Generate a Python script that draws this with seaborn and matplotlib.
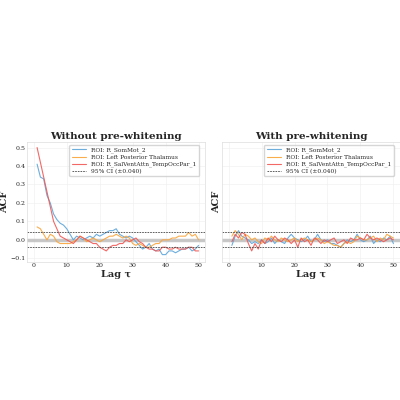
import numpy as np
import pandas as pd
import seaborn as sns
import matplotlib.pyplot as plt

sns.set_theme(style="whitegrid")
plt.rcParams['font.family'] = ['DejaVu Serif']

lags = list(range(1, 51))
names = ["ROI: R_SomMot_2", "ROI: Left Posterior Thalamus", "ROI: R_SalVentAttn_TempOccPar_1"]
colors = ["#5da5da", "#faa43a", "#f15854"]
ci = 0.040

raw_blue = [0.41,0.34,0.33,0.24,0.20,0.14,0.11,0.09,0.08,0.06,0.03,0.00,0.02,0.01,0.00,0.01,0.02,0.01,0.03,0.02,
            0.03,0.04,0.05,0.05,0.06,0.03,0.02,0.01,0.02,0.01,-0.01,-0.03,-0.05,-0.04,-0.02,-0.05,-0.06,-0.05,-0.08,-0.08,
            -0.06,-0.06,-0.07,-0.06,-0.05,-0.05,-0.04,-0.06,-0.05,-0.03]
raw_orange = [0.07,0.06,0.03,0.00,0.03,0.02,-0.01,-0.02,-0.02,-0.02,-0.02,-0.01,0.00,0.02,0.01,-0.01,0.00,0.01,0.00,-0.01,
              0.00,0.01,0.02,0.02,0.03,0.02,0.01,0.02,0.01,-0.02,-0.03,-0.02,-0.03,-0.04,-0.04,-0.03,-0.02,-0.02,0.00,0.00,
              0.00,0.01,0.01,0.02,0.02,0.02,0.04,0.02,0.03,0.00]
raw_red = [0.50,0.42,0.34,0.26,0.18,0.10,0.06,0.02,0.01,0.00,-0.01,-0.02,0.00,0.02,0.01,0.00,-0.01,-0.02,-0.02,-0.04,
           -0.05,-0.06,-0.04,-0.03,-0.03,-0.02,-0.02,0.00,-0.01,0.00,0.01,-0.01,-0.02,-0.04,-0.05,-0.05,-0.06,-0.06,-0.04,-0.04,
           -0.05,-0.05,-0.04,-0.05,-0.05,-0.05,-0.04,-0.04,-0.06,-0.06]

pw_blue = [-0.03,0.02,0.05,0.02,0.01,0.00,-0.02,-0.01,-0.02,0.00,-0.02,-0.01,0.01,-0.02,0.00,-0.01,-0.02,0.01,0.03,0.01,
           0.00,-0.01,0.00,0.02,-0.01,0.00,0.03,0.00,-0.01,0.00,-0.02,-0.02,-0.03,-0.04,-0.02,0.00,-0.01,0.00,0.03,0.00,
           -0.01,0.00,0.02,-0.02,0.00,-0.01,0.01,0.00,0.02,-0.02]
pw_orange = [0.02,0.05,0.03,0.00,0.03,0.02,0.00,0.01,-0.01,-0.02,0.01,0.00,0.02,0.00,-0.01,0.01,0.00,-0.01,0.00,0.01,
             -0.01,0.00,0.01,0.00,-0.01,0.00,0.01,0.00,-0.02,-0.01,-0.02,-0.03,-0.03,-0.04,-0.02,-0.01,-0.02,-0.01,0.02,0.01,
             0.00,0.00,0.01,0.02,-0.01,0.01,0.00,0.03,0.02,0.01]
pw_red = [-0.01,0.03,0.01,0.04,0.03,-0.02,-0.06,-0.02,-0.05,0.00,-0.02,0.01,-0.01,0.02,0.00,-0.01,0.01,0.00,-0.02,0.00,
          -0.04,0.01,-0.01,0.00,-0.03,0.01,0.00,-0.02,0.00,-0.01,0.00,0.01,-0.02,-0.01,0.00,-0.02,0.01,0.00,0.00,0.01,
          0.00,0.03,0.01,0.00,0.01,0.00,-0.01,0.00,0.01,0.00]

fig = plt.figure(figsize=(4, 4), dpi=100)
ax1 = fig.add_axes([0.068, 0.345, 0.445, 0.30])
ax2 = fig.add_axes([0.555, 0.345, 0.445, 0.30], sharey=ax1)

panels = [(ax1, "Without pre-whitening", [raw_blue, raw_orange, raw_red]),
          (ax2, "With pre-whitening", [pw_blue, pw_orange, pw_red])]
for ax, title, series in panels:
    ax.axhline(0, color="#bbbbbb", lw=2.5, alpha=0.8, zorder=1)
    for name, vals, c in zip(names, series, colors):
        sns.lineplot(x=lags, y=vals, ax=ax, color=c, lw=0.8, label=name, alpha=0.9)
    ax.axhline(ci, color="#444444", ls=(0, (2, 1.2)), lw=0.6, label=f"95% CI (±{ci:.3f})")
    ax.axhline(-ci, color="#444444", ls=(0, (2, 1.2)), lw=0.6)
    ax.set_title(title, fontsize=7.5, fontweight="bold", pad=2)
    ax.set_xlabel("Lag τ", fontsize=7, fontweight="bold", labelpad=1)
    ax.set_ylabel("ACF", fontsize=7, fontweight="bold", labelpad=1)
    ax.tick_params(labelsize=4.5, pad=1, length=0)
    ax.grid(True, lw=0.4, color="#eeeeee")
    ax.set_xlim(-2, 52)
    ax.legend(loc="upper right", fontsize=4.2, frameon=True, handlelength=2.5, borderpad=0.4,
              labelspacing=0.3, bbox_to_anchor=(0.98, 1.0))
    for s in ax.spines.values():
        s.set_color("#dddddd"); s.set_linewidth(0.5)
ax1.set_ylim(-0.12, 0.53)
ax1.set_yticks([-0.1, 0.0, 0.1, 0.2, 0.3, 0.4, 0.5])
ax1.set_xticks([0, 10, 20, 30, 40, 50])
ax2.set_xticks([0, 10, 20, 30, 40, 50])
plt.setp(ax2.get_yticklabels(), visible=False)
fig.savefig("out.png", dpi=100)
